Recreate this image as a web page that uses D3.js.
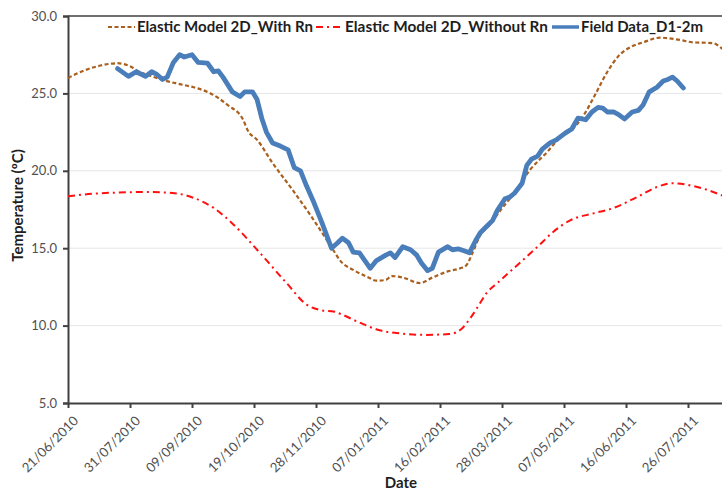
<!DOCTYPE html>
<html>
<head>
<meta charset="utf-8">
<script src="https://cdn.jsdelivr.net/npm/d3@7"></script>
<style>
  html, body { margin: 0; padding: 0; background: #fff; }
  svg { display: block; }
  text { font-family: Lato, "Open Sans", sans-serif; }
</style>
</head>
<body>
<svg id="chart" width="722" height="493"></svg>
<script>
// Day offsets are counted from the first date on the axis.
const startDate = new Date(2010, 5, 21);
const tickDays = [0, 40, 80, 120, 160, 200, 240, 280, 320, 360, 400];
const yTicks = [5, 10, 15, 20, 25, 30];

const seriesNames = ["Elastic Model 2D_With Rn", "Elastic Model 2D_Without Rn", "Field Data_D1-2m"];

// Elastic model with net radiation
const withRnDay  = [0, 11, 21, 32, 40, 46, 53, 61, 72, 81, 92, 103, 113, 116, 122, 132, 145, 158, 171, 176, 184, 193, 199, 205, 209, 216, 227, 235, 245, 253, 257, 261, 266, 272, 279, 287, 298, 309, 317, 328, 334, 340, 348, 356, 363, 371, 382, 395, 403, 416, 422, 430];
const withRnTemp = [26.0, 26.5, 26.8, 26.95, 26.75, 26.4, 26.15, 25.87, 25.6, 25.4, 25.0, 24.25, 23.3, 22.6, 22.0, 20.5, 18.75, 16.9, 14.9, 14.15, 13.6, 13.15, 12.9, 12.95, 13.2, 13.1, 12.75, 13.1, 13.5, 13.7, 13.9, 14.7, 15.85, 16.5, 17.45, 18.45, 20.05, 21.2, 22.1, 22.95, 23.8, 24.9, 26.4, 27.5, 28.0, 28.3, 28.6, 28.45, 28.3, 28.25, 27.9, 27.3];

// Elastic model without net radiation
const withoutRnDay  = [0, 21, 53, 69, 81, 94, 106, 122, 141, 154, 163, 172, 176, 188, 201, 214, 230, 246, 254, 259, 264, 270, 277, 292, 303, 313, 324, 339, 352, 367, 380, 390, 406, 421, 433];
const withoutRnTemp = [18.35, 18.55, 18.63, 18.55, 18.25, 17.6, 16.6, 14.9, 12.75, 11.35, 11.0, 10.9, 10.75, 10.2, 9.7, 9.5, 9.4, 9.45, 9.8, 10.4, 11.15, 12.1, 12.75, 14.1, 15.1, 16.05, 16.8, 17.25, 17.6, 18.3, 18.95, 19.2, 18.95, 18.45, 17.9];

// Measured field temperature at D1, 2 m depth
const fieldDay  = [32, 39, 44, 50, 54, 57, 61, 64, 68, 72, 75, 80, 84, 90, 94, 97, 100, 106, 111, 114, 119, 122, 125, 128, 132, 137, 142, 146, 150, 154, 158, 164, 170, 174, 177, 181, 184, 188, 195, 199, 205, 208, 211, 216, 221, 225, 228, 232, 235, 239, 245, 248, 252, 255, 259, 263, 266, 270, 274, 277, 282, 285, 288, 293, 296, 299, 303, 306, 311, 315, 321, 325, 329, 334, 338, 342, 345, 348, 352, 355, 359, 364, 368, 371, 375, 380, 384, 387, 390, 393, 397];
const fieldTemp = [26.6, 26.1, 26.4, 26.1, 26.4, 26.25, 25.9, 26.05, 27.0, 27.5, 27.35, 27.5, 27.0, 26.95, 26.4, 26.45, 26.05, 25.1, 24.8, 25.1, 25.1, 24.6, 23.4, 22.5, 21.8, 21.6, 21.35, 20.2, 20.0, 19.0, 18.1, 16.6, 15.0, 15.35, 15.65, 15.35, 14.75, 14.7, 13.7, 14.2, 14.55, 14.7, 14.4, 15.1, 14.9, 14.55, 14.05, 13.55, 13.7, 14.75, 15.1, 14.9, 14.95, 14.85, 14.7, 15.5, 16.0, 16.4, 16.8, 17.45, 18.2, 18.3, 18.55, 19.2, 20.35, 20.75, 20.95, 21.4, 21.8, 22.0, 22.45, 22.7, 23.4, 23.3, 23.8, 24.1, 24.05, 23.8, 23.8, 23.65, 23.35, 23.8, 23.9, 24.25, 25.1, 25.4, 25.8, 25.9, 26.05, 25.8, 25.35];

const dayToDate = d => d3.timeDay.offset(startDate, d);
const zip = (days, temps) => days.map((d, i) => ({ date: dayToDate(d), temp: temps[i] }));

const svg = d3.select("#chart");
const W = 722, H = 493;
const plotLeft = 68, plotTop = 16, plotBottom = 403, axisEndDay = 440;

const x = d3.scaleTime()
  .domain([startDate, dayToDate(axisEndDay)])
  .range([plotLeft, plotLeft + 1.55 * axisEndDay]);
const y = d3.scaleLinear().domain([5, 30]).range([plotBottom, plotTop]);

const axisColor = "#404040";
const labelColor = "#505050";
const titleColor = "#1e1e1e";

// Horizontal gridlines
svg.append("g")
  .selectAll("line")
  .data(yTicks.filter(v => v > 5 && v < 30))
  .join("line")
  .attr("x1", plotLeft).attr("x2", W)
  .attr("y1", d => y(d)).attr("y2", d => y(d))
  .attr("stroke", "#e6e6e6").attr("stroke-width", 1);

// Plot area frame: top edge
svg.append("line")
  .attr("x1", plotLeft).attr("x2", W)
  .attr("y1", y(30)).attr("y2", y(30))
  .attr("stroke", axisColor).attr("stroke-width", 1.3);

// Y axis
const yAxis = svg.append("g")
  .attr("transform", `translate(${plotLeft},0)`)
  .call(d3.axisLeft(y).tickValues(yTicks).tickFormat(d3.format(".1f")).tickSize(5).tickPadding(6));
yAxis.select(".domain").attr("stroke", axisColor).attr("stroke-width", 2);
yAxis.selectAll(".tick line").attr("stroke", axisColor).attr("stroke-width", 2);
yAxis.selectAll(".tick text")
  .attr("fill", labelColor).style("font-size", "13px").style("font-family", "Lato, sans-serif");

// X axis
const xAxis = svg.append("g")
  .attr("transform", `translate(0,${plotBottom})`)
  .call(d3.axisBottom(x).tickValues(tickDays.map(dayToDate)).tickFormat(d3.timeFormat("%d/%m/%Y")).tickSize(5).tickSizeOuter(0));
xAxis.select(".domain").attr("stroke", axisColor).attr("stroke-width", 2);
xAxis.selectAll(".tick line").attr("stroke", axisColor).attr("stroke-width", 2);
xAxis.selectAll(".tick text")
  .attr("fill", labelColor)
  .style("font-size", "13.2px").style("font-family", "Lato, sans-serif")
  .attr("text-anchor", "end")
  .attr("dx", 0).attr("dy", 0)
  .attr("transform", "translate(5,13) rotate(-45)");

// Series lines
const line = d3.line().x(d => x(d.date)).y(d => y(d.temp));

svg.append("path")
  .datum(zip(withRnDay, withRnTemp))
  .attr("d", line.curve(d3.curveMonotoneX))
  .attr("fill", "none").attr("stroke", "#A95F1E").attr("stroke-width", 2.2)
  .attr("stroke-dasharray", "4,2.5");

svg.append("path")
  .datum(zip(withoutRnDay, withoutRnTemp))
  .attr("d", line.curve(d3.curveMonotoneX))
  .attr("fill", "none").attr("stroke", "#FF1010").attr("stroke-width", 2)
  .attr("stroke-dasharray", "7,4,2,4");

svg.append("path")
  .datum(zip(fieldDay, fieldTemp))
  .attr("d", line.curve(d3.curveLinear))
  .attr("fill", "none").attr("stroke", "#4A7EBB").attr("stroke-width", 4.8)
  .attr("stroke-linejoin", "round").attr("stroke-linecap", "round");

// Legend: sample line, then label fitted to its slot
const legendItems = [
  { name: seriesNames[0], x: 108, len: 176, color: "#A95F1E", dash: "4,2.5", width: 2 },
  { name: seriesNames[1], x: 316, len: 203, color: "#FF1010", dash: "7,4,2,4", width: 2 },
  { name: seriesNames[2], x: 552, len: 122, color: "#4A7EBB", dash: null, width: 3.5 }
];
const legend = svg.append("g");
legendItems.forEach(it => {
  legend.append("line")
    .attr("x1", it.x).attr("x2", it.x + 27)
    .attr("y1", 27).attr("y2", 27)
    .attr("stroke", it.color).attr("stroke-width", it.width)
    .attr("stroke-dasharray", it.dash);
  legend.append("text")
    .attr("x", it.x + 29).attr("y", 32)
    .attr("fill", titleColor)
    .attr("textLength", it.len).attr("lengthAdjust", "spacingAndGlyphs")
    .style("font-size", "14.6px").style("font-weight", "bold")
    .text(it.name);
});

// Axis titles
svg.append("text")
  .attr("x", 401).attr("y", 488)
  .attr("text-anchor", "middle")
  .attr("fill", titleColor)
  .style("font-size", "15px").style("font-weight", "bold")
  .text("Date");

svg.append("text")
  .attr("transform", `translate(23,${(plotTop + plotBottom) / 2 - 4}) rotate(-90)`)
  .attr("text-anchor", "middle")
  .attr("fill", titleColor)
  .style("font-size", "15px").style("font-weight", "bold")
  .text("Temperature (ºC)");
</script>
</body>
</html>
